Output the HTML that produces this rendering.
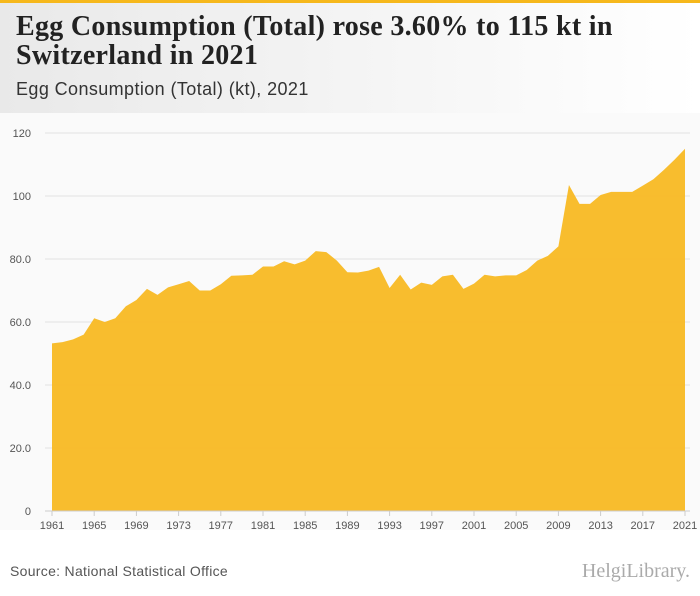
<!DOCTYPE html>
<html><head><meta charset="utf-8">
<style>
body{margin:0;width:700px;height:596px;background:#fff;font-family:"Liberation Sans",sans-serif;overflow:hidden;position:relative}
.topbar{position:absolute;left:0;top:0;width:700px;height:3px;background:#f6b81c}
.head{position:absolute;left:0;top:3px;width:700px;height:110px;background:linear-gradient(90deg,#e9e9e9,#fff)}
h1{position:absolute;left:16px;top:12px;margin:0;font-family:"Liberation Serif",serif;font-weight:bold;font-size:28px;line-height:29px;letter-spacing:0.3px;color:#222}
.sub{position:absolute;left:16px;top:79px;font-size:18px;letter-spacing:0.4px;color:#333}
.src{position:absolute;left:10px;top:563px;font-size:14px;letter-spacing:0.3px;color:#555}
.logo{position:absolute;right:10px;top:560px;font-family:"Liberation Serif",serif;font-size:20px;color:#aaa}
</style></head><body>
<div class="topbar"></div>
<div class="head"></div>
<h1>Egg Consumption (Total) rose 3.60% to 115 kt in<br>Switzerland in 2021</h1>
<div class="sub">Egg Consumption (Total) (kt), 2021</div>
<svg id="chart" style="position:absolute;left:0;top:113px" width="700" height="430"></svg>
<div class="src">Source: National Statistical Office</div>
<div class="logo">HelgiLibrary.</div>
<script>
const years=[];for(let y=1961;y<=2021;y++)years.push(y);
const values=[53.2,53.6,54.5,56,61.2,60,61.2,65,67,70.5,68.6,71,72,73,70,70,72,74.7,74.8,75,77.6,77.6,79.3,78.3,79.5,82.5,82.2,79.5,75.8,75.7,76.3,77.5,70.8,75,70.3,72.5,71.8,74.5,75,70.5,72.2,75,74.5,74.8,74.8,76.5,79.5,81,84,103.5,97.5,97.5,100.3,101.3,101.3,101.3,103.3,105.3,108.3,111.5,115];
const yTicks=[0,20,40,60,80,100,120];
const yTickLabels=["0","20.0","40.0","60.0","80.0","100","120"];
const xTickYears=[1961,1965,1969,1973,1977,1981,1985,1989,1993,1997,2001,2005,2009,2013,2017,2021];
const NS="http://www.w3.org/2000/svg";
const svg=document.getElementById('chart');
const OFF=113;
const x=v=>52+(v-1961)*(685-52)/60;
const y=v=>511-OFF-v*(511-133)/120;
function mk(t,a){const e=document.createElementNS(NS,t);for(const k in a)e.setAttribute(k,a[k]);svg.appendChild(e);return e;}
mk('rect',{x:0,y:0,width:700,height:417,fill:'#fafafa'});
yTicks.forEach((t,i)=>{
 const l=mk('line',{x1:45,x2:690,y1:y(t),y2:y(t),stroke:'#e2e2e2','stroke-width':1});
 
 
 const tx=mk('text',{x:31,y:y(t)+4,'text-anchor':'end','font-size':11,fill:'#555','font-family':'Liberation Sans'});
 tx.textContent=yTickLabels[i];
 
 
});
let d='M'+x(years[0])+','+y(0);
years.forEach((yr,i)=>{d+=' L'+x(yr)+','+y(values[i]);});
d+=' L'+x(years[years.length-1])+','+y(0)+' Z';
const area=mk('path',{d:d,fill:'#f8b923',opacity:0.95});


mk('line',{x1:45,x2:690,y1:y(0),y2:y(0),stroke:'#ccc'});
xTickYears.forEach(yr=>{
 mk('line',{x1:x(yr),x2:x(yr),y1:y(0),y2:y(0)+5,stroke:'#ccc'});
 const tx=mk('text',{x:x(yr),y:y(0)+18,'text-anchor':'middle','font-size':11,fill:'#555','font-family':'Liberation Sans'});
 tx.textContent=yr;
 
 
});
</script>
</body></html>
